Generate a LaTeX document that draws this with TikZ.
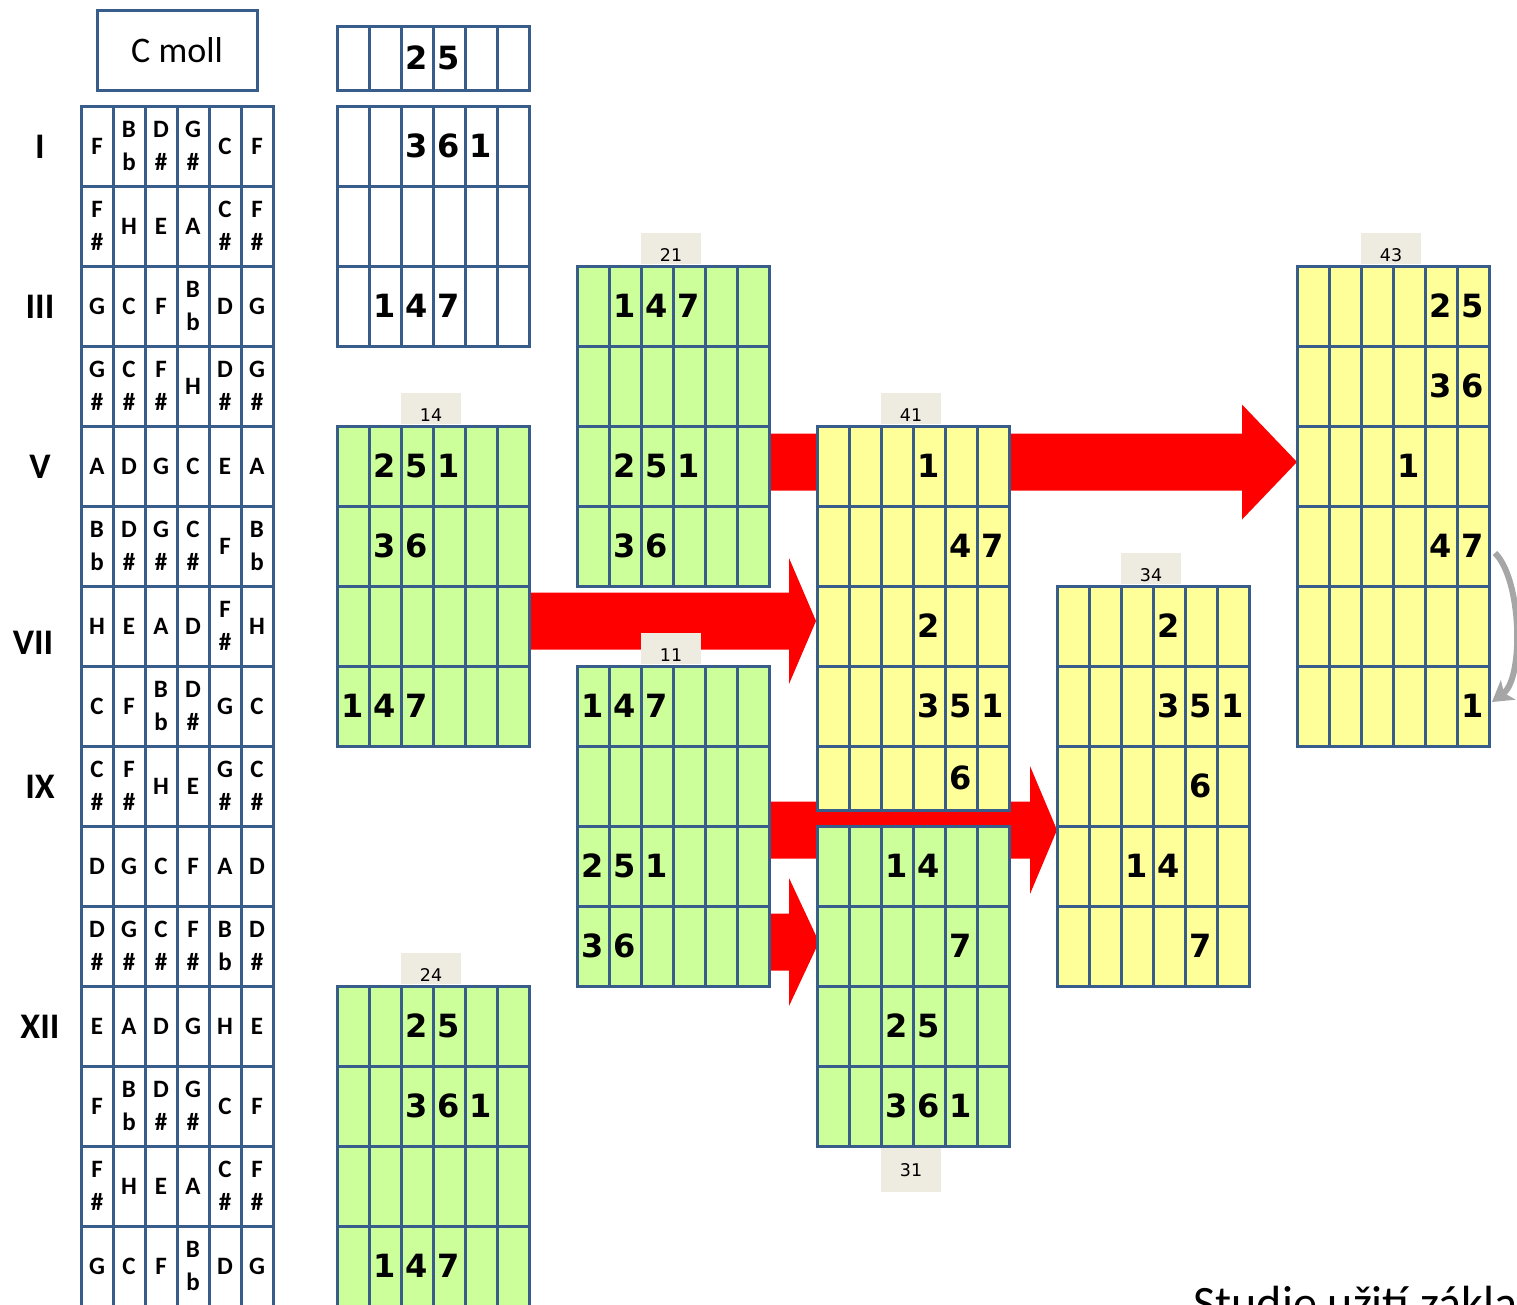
\documentclass[tikz,border=0pt]{standalone}
\usepackage{fontspec}
\setmainfont{Carlito}
\newfontfamily\numfont{DejaVu Sans}
\usetikzlibrary{positioning, calc, arrows.meta, backgrounds}

\definecolor{gridblue}{HTML}{385D8A}
\definecolor{greenfill}{HTML}{CCFF99}
\definecolor{yellowfill}{HTML}{FFFF99}
\definecolor{tabgray}{HTML}{EEECE1}
\definecolor{arrowgray}{HTML}{A6A6A6}

% stacked note name (letter over accidental)
\newcommand{\stk}[2]{#1\\#2}
% one fret row of the fingerboard
\newcommand{\fretrow}[2]{%
  \foreach \nt [count=\cc] in {#2}
    \node[notecell] (fb-#1-\cc) at ($(fb.north west)+(32*\cc-16,80*#1-40)$) {\nt};}
% finger numbers: row/column/digit
\newcommand{\fingers}[2]{%
  \foreach \rr/\cc/\dig [count=\kk] in {#2}
    \node[digit] (#1-d\kk) at ($(#1.north west)+(32*\cc-16,80*\rr-40)$) {\dig};}
% inner lines of a six string grid
\newcommand{\gridcols}[1]{%
  \foreach \ii in {1,...,5}
    \draw[gridline] ($(#1.north west)+(32*\ii,0)$) -- ($(#1.south west)+(32*\ii,0)$);}
\newcommand{\gridrows}[2]{%
  \foreach \jj in {1,...,#2}
    \draw[gridline] ($(#1.north west)+(0,80*\jj)$) -- ($(#1.north east)+(0,80*\jj)$);}
% red block arrow: tail, tip, head length, head half width
\newcommand{\blockarrow}[4]{%
  \fill[arrowred] let \p1=(#1), \p2=(#2) in
    (\x1,\y2+28.5pt) -- (\x2-#3pt,\y2+28.5pt) -- (\x2-#3pt,\y2+#4pt) -- (\x2,\y2)
    -- (\x2-#3pt,\y2-#4pt) -- (\x2-#3pt,\y2-28.5pt) -- (\x1,\y2-28.5pt) -- cycle;}

\begin{document}
\begin{tikzpicture}[
  x=1pt, y=-1pt,
  board/.style={draw=gridblue, line width=3pt, rectangle, inner sep=0pt, outer sep=0pt,
    minimum width=192pt, anchor=north west},
  gridline/.style={draw=gridblue, line width=3pt},
  notecell/.style={font=\fontsize{25}{33}\selectfont\bfseries, align=center, inner sep=0pt},
  digit/.style={font=\numfont\bfseries\fontsize{32}{36}\selectfont, inner sep=0pt},
  tabbox/.style={fill=tabgray, minimum width=60pt, inner xsep=0pt, inner ysep=2.5pt,
    text height=26pt, text depth=0pt, font=\numfont\fontsize{17.5}{20}\selectfont},
  fretlabel/.style={font=\fontsize{36}{40}\selectfont\bfseries, inner sep=0pt},
  arrowred/.style={fill=red},
  bendarrow/.style={draw=arrowgray, line width=6pt, -{Stealth[length=20pt,width=24pt,inset=5pt]}},
]
  \useasboundingbox (0,0) rectangle (1517,1304);

  % key and fingerboard
  \node[board, minimum width=160pt, minimum height=80pt,
        font=\fontsize{36}{40}\selectfont] (cmoll) at (97,10) {C moll};
  \node[board, minimum height=1200pt] (fb) at (81,106) {};
  \gridcols{fb} \gridrows{fb}{14}

  \fretrow{1}{F,\stk{B}{b},\stk{D}{\#},\stk{G}{\#},C,F}
  \fretrow{2}{\stk{F}{\#},H,E,A,\stk{C}{\#},\stk{F}{\#}}
  \fretrow{3}{G,C,F,\stk{B}{b},D,G}
  \fretrow{4}{\stk{G}{\#},\stk{C}{\#},\stk{F}{\#},H,\stk{D}{\#},\stk{G}{\#}}
  \fretrow{5}{A,D,G,C,E,A}
  \fretrow{6}{\stk{B}{b},\stk{D}{\#},\stk{G}{\#},\stk{C}{\#},F,\stk{B}{b}}
  \fretrow{7}{H,E,A,D,\stk{F}{\#},H}
  \fretrow{8}{C,F,\stk{B}{b},\stk{D}{\#},G,C}
  \fretrow{9}{\stk{C}{\#},\stk{F}{\#},H,E,\stk{G}{\#},\stk{C}{\#}}
  \fretrow{10}{D,G,C,F,A,D}
  \fretrow{11}{\stk{D}{\#},\stk{G}{\#},\stk{C}{\#},\stk{F}{\#},\stk{B}{b},\stk{D}{\#}}
  \fretrow{12}{E,A,D,G,H,E}
  \fretrow{13}{F,\stk{B}{b},\stk{D}{\#},\stk{G}{\#},C,F}
  \fretrow{14}{\stk{F}{\#},H,E,A,\stk{C}{\#},\stk{F}{\#}}
  \fretrow{15}{G,C,F,\stk{B}{b},D,G}

  \node[fretlabel] (lI)   at (40,147)  {I};
  \node[fretlabel] (lIII) at (40,307)  {III};
  \node[fretlabel] (lV)   at (40,467)  {V};
  \node[fretlabel] (lVII) at (33,643)  {VII};
  \node[fretlabel] (lIX)  at (40,787)  {IX};
  \node[fretlabel] (lXII) at (40,1027) {XII};

  % white pattern
  \node[board, fill=white, minimum height=64pt] (w0) at (337,26) {};
  \gridcols{w0}
  \node[board, fill=white, minimum height=240pt] (w1) at (337,106) {};
  \gridcols{w1} \gridrows{w1}{2}
  \fingers{w0}{0.9/3/2, 0.9/4/5}
  \fingers{w1}{1/3/3, 1/4/6, 1/5/1, 3/2/1, 3/3/4, 3/4/7}

  % green patterns
  \node[board, fill=greenfill, minimum height=320pt] (g14) at (337,426) {};
  \node[board, fill=greenfill, minimum height=320pt] (g24) at (337,986) {};
  \node[board, fill=greenfill, minimum height=320pt] (g21) at (577,266) {};
  \node[board, fill=greenfill, minimum height=320pt] (g11) at (577,666) {};
  \node[board, fill=greenfill, minimum height=320pt] (g31) at (817,826) {};
  % yellow patterns
  \node[board, fill=yellowfill, minimum height=384pt] (g41) at (817,426) {};
  \node[board, fill=yellowfill, minimum height=400pt] (g34) at (1057,586) {};
  \node[board, fill=yellowfill, minimum height=480pt] (g43) at (1297,266) {};

  \foreach \g in {g14,g24,g21,g11,g31} {\gridcols{\g} \gridrows{\g}{3}}
  \gridcols{g41} \gridrows{g41}{4}
  \gridcols{g34} \gridrows{g34}{4}
  \gridcols{g43} \gridrows{g43}{5}

  \fingers{g14}{1/2/2, 1/3/5, 1/4/1, 2/2/3, 2/3/6, 4/1/1, 4/2/4, 4/3/7}
  \fingers{g24}{1/3/2, 1/4/5, 2/3/3, 2/4/6, 2/5/1, 4/2/1, 4/3/4, 4/4/7}
  \fingers{g21}{1/2/1, 1/3/4, 1/4/7, 3/2/2, 3/3/5, 3/4/1, 4/2/3, 4/3/6}
  \fingers{g11}{1/1/1, 1/2/4, 1/3/7, 3/1/2, 3/2/5, 3/3/1, 4/1/3, 4/2/6}
  \fingers{g31}{1/3/1, 1/4/4, 2/5/7, 3/3/2, 3/4/5, 4/3/3, 4/4/6, 4/5/1}
  \fingers{g41}{1/4/1, 2/5/4, 2/6/7, 3/4/2, 4/4/3, 4/5/5, 4/6/1, 4.9/5/6}
  \fingers{g34}{1/4/2, 2/4/3, 2/5/5, 2/6/1, 3/5/6, 4/3/1, 4/4/4, 5/5/7}
  \fingers{g43}{1/5/2, 1/6/5, 2/5/3, 2/6/6, 3/4/1, 4/5/4, 4/6/7, 6/6/1}

  % position tabs
  \node[tabbox, above=1.5pt of g14.north, xshift=-2pt] (tab14) {14};
  \node[tabbox, above=1.5pt of g24.north, xshift=-2pt] (tab24) {24};
  \node[tabbox, above=1.5pt of g21.north, xshift=-2pt] (tab21) {21};
  \node[tabbox, above=1.5pt of g11.north, xshift=-2pt] (tab11) {11};
  \node[tabbox, above=1.5pt of g41.north, xshift=-2pt] (tab41) {41};
  \node[tabbox, above=1.5pt of g34.north, xshift=-2pt] (tab34) {34};
  \node[tabbox, above=1.5pt of g43.north, xshift=-2pt] (tab43) {43};
  \node[tabbox, below=1.5pt of g31.south, xshift=-2pt, inner ysep=0pt,
        text height=29pt, text depth=15.5pt] (tab31) {31};

  % shift back to the first string
  \coordinate (bendA) at ($(g43.north east)+(6,287)$);
  \coordinate (bendB) at ($(g43.north east)+(3,436)$);
  \draw[bendarrow] (bendA) .. controls ($(bendA)+(27,27)$) and ($(bendB)+(32,-24)$) .. (bendB);

  \node[anchor=base west, font=\fontsize{48}{56}\selectfont] (caption) at (1190,1319)
    {Studie užití zákla};

  % red arrows behind the grids
  \coordinate (tip1) at ($(g43.north west)+(0,196)$);
  \coordinate (tip2) at ($(g41.north west)+(-1,195)$);
  \coordinate (tip3) at ($(g34.north west)+(0,244)$);
  \coordinate (tip4) at ($(g31.north west)+(2,116)$);
  \begin{pgfonlayer}{background}
    \fill[white] (0,0) rectangle (1517,1304);
    \blockarrow{g21.east |- tip1}{tip1}{55}{57.5}
    \blockarrow{g14.east |- tip2}{tip2}{27}{63}
    \blockarrow{g11.east |- tip3}{tip3}{27}{64}
    \blockarrow{g11.east |- tip4}{tip4}{30}{64}
  \end{pgfonlayer}
\end{tikzpicture}
\end{document}
